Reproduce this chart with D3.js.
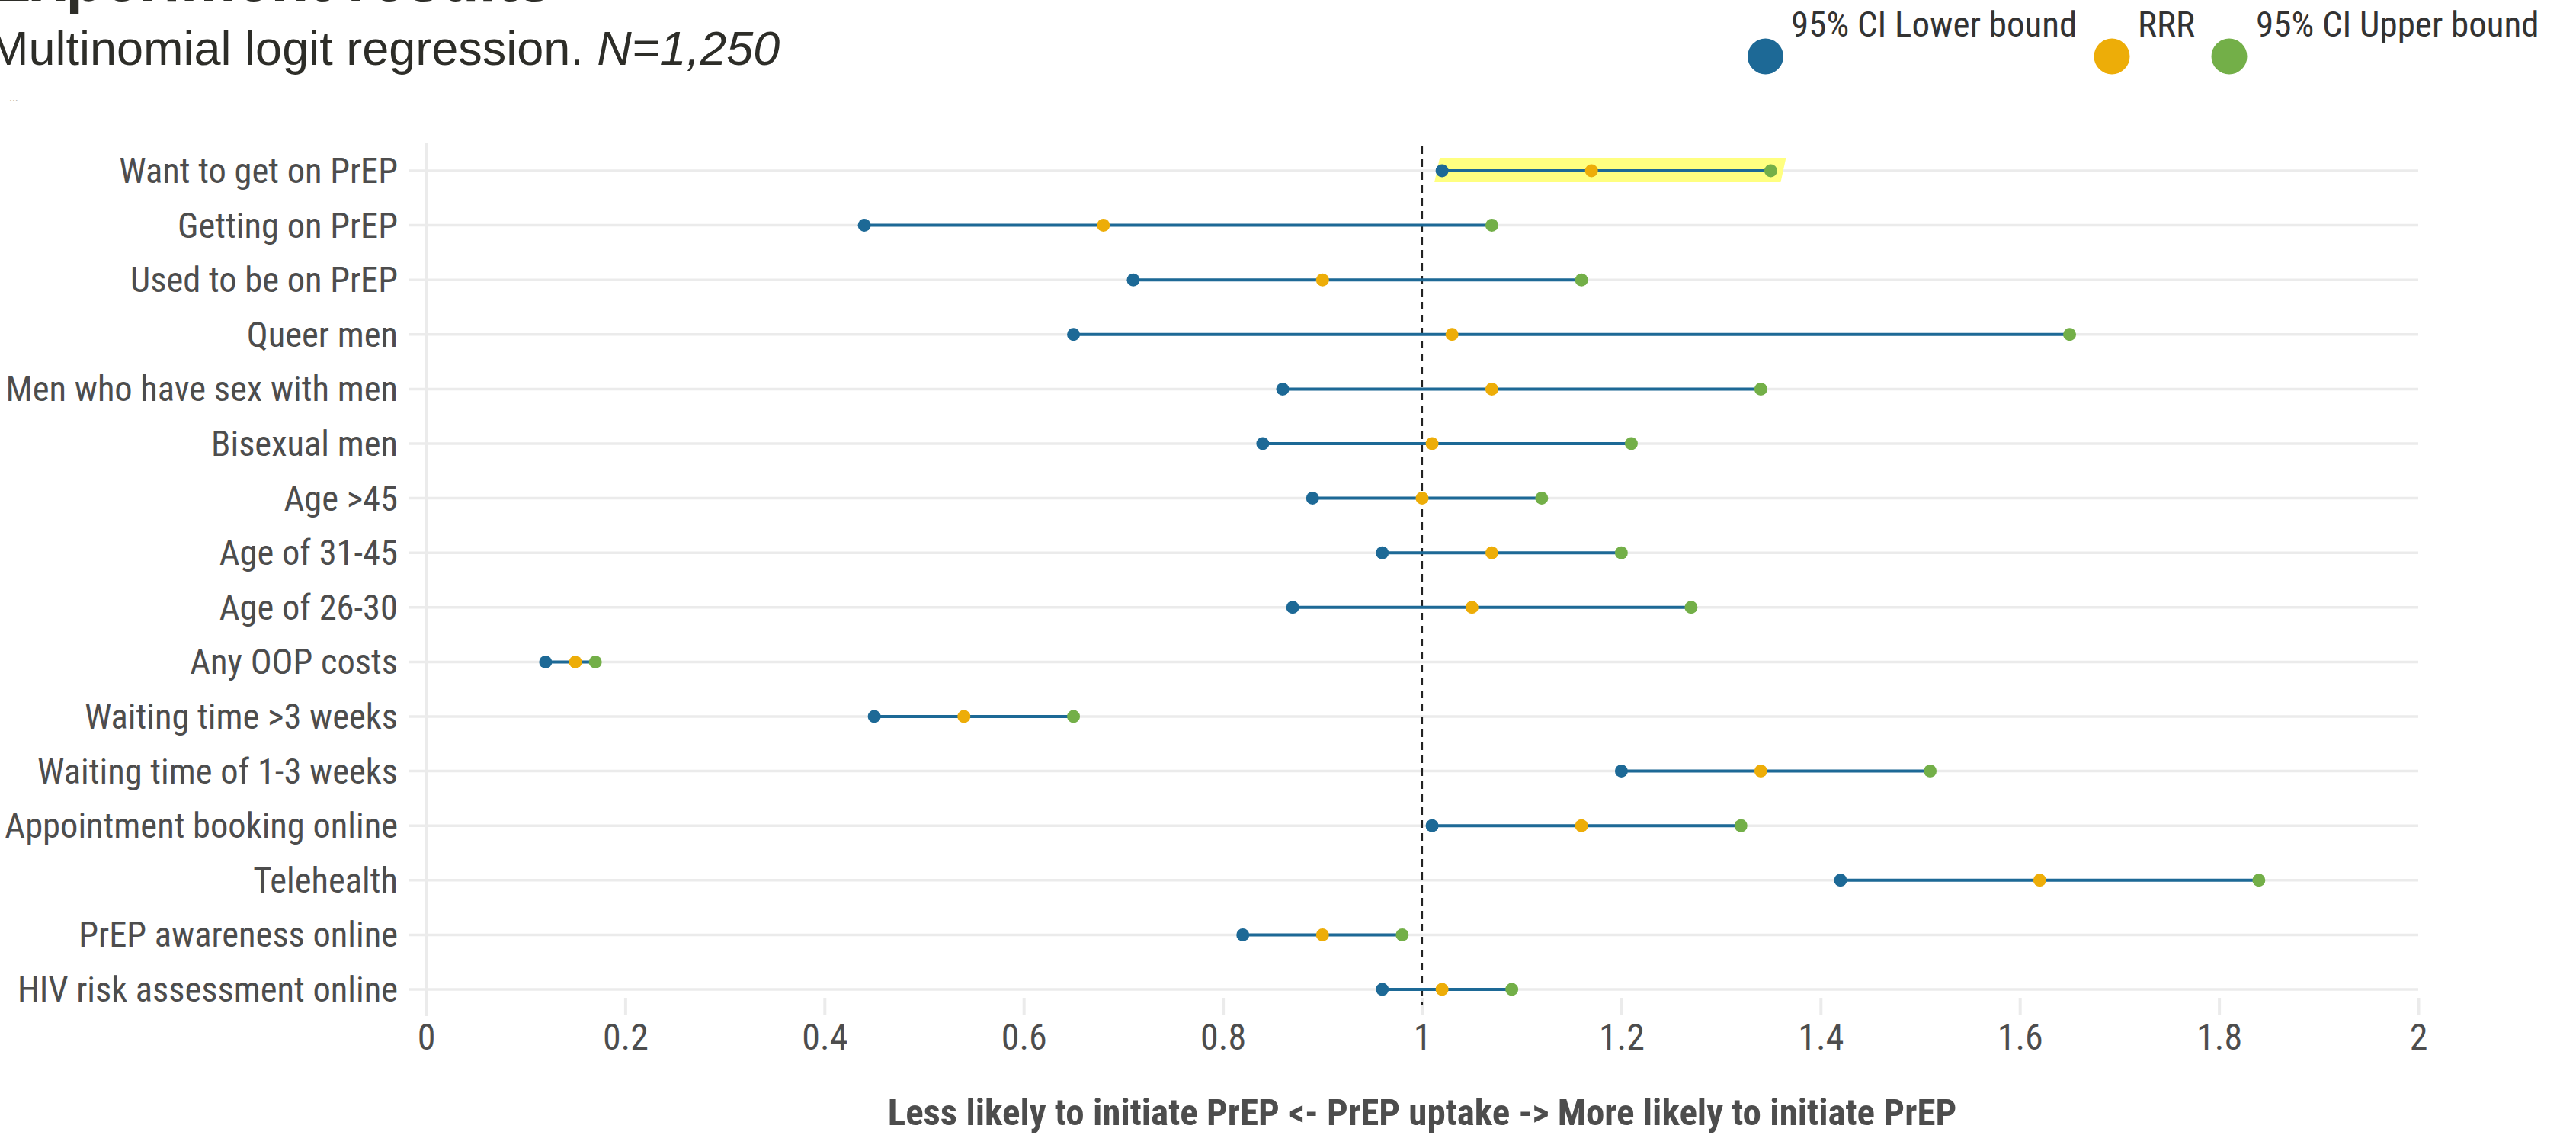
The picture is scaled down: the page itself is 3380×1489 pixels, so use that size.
<!DOCTYPE html>
<html>
<head>
<meta charset="utf-8">
<script src="https://cdn.jsdelivr.net/npm/d3@7"></script>
<style>
  html, body { margin: 0; padding: 0; background: #ffffff; overflow: hidden; }
  svg { display: block; }
</style>
</head>
<body>
<div id="chart"></div>
<script>
// ---------------- DATA ----------------
const categories = [
  "Want to get on PrEP",
  "Getting on PrEP",
  "Used to be on PrEP",
  "Queer men",
  "Men who have sex with men",
  "Bisexual men",
  "Age >45",
  "Age of 31-45",
  "Age of 26-30",
  "Any OOP costs",
  "Waiting time >3 weeks",
  "Waiting time of 1-3 weeks",
  "Appointment booking online",
  "Telehealth",
  "PrEP awareness online",
  "HIV risk assessment online"
];
const lowerBound = [1.02, 0.44, 0.71, 0.65, 0.86, 0.84, 0.89, 0.96, 0.87, 0.12, 0.45, 1.20, 1.01, 1.42, 0.82, 0.96];
const rrr        = [1.17, 0.68, 0.90, 1.03, 1.07, 1.01, 1.00, 1.07, 1.05, 0.15, 0.54, 1.34, 1.16, 1.62, 0.90, 1.02];
const upperBound = [1.35, 1.07, 1.16, 1.65, 1.34, 1.21, 1.12, 1.20, 1.27, 0.17, 0.65, 1.51, 1.32, 1.84, 0.98, 1.09];
const xTicks = [0, 0.2, 0.4, 0.6, 0.8, 1, 1.2, 1.4, 1.6, 1.8, 2];
const seriesNames = ["95% CI Lower bound", "RRR", "95% CI Upper bound"];
const seriesColors = ["#1D6996", "#EDAD08", "#73AF48"];
const highlighted = ["Want to get on PrEP"];
const referenceValue = 1;
const titleText = "Experiment results";
const subtitleText = "Multinomial logit regression. ";
const subtitleItalic = "N=1,250";
const xAxisTitle = "Less likely to initiate PrEP <- PrEP uptake -> More likely to initiate PrEP";

// ---------------- SETUP ----------------
const W = 3380, H = 1489;
const svg = d3.select("#chart").append("svg").attr("width", W).attr("height", H);

// detect condensed font availability
function hasFont(name) {
  const c = document.createElement("canvas").getContext("2d");
  const s = "Want to get on PrEP 0123456789";
  c.font = "48px monospace"; const a = c.measureText(s).width;
  c.font = `48px "${name}", monospace`; const b = c.measureText(s).width;
  return Math.abs(a - b) > 0.5;
}
const condensedOK = hasFont("Roboto Condensed");
const CF = condensedOK ? "'Roboto Condensed', Roboto, sans-serif" : "Roboto, sans-serif";
const SX = condensedOK ? 1 : 0.82;

function ctext(g, x, y, txt, opts) {
  const t = g.append("text")
    .attr("transform", `translate(${x},${y}) scale(${SX},1)`)
    .attr("font-family", CF)
    .attr("font-size", opts.size)
    .attr("font-weight", opts.weight || 400)
    .attr("fill", opts.fill || "#4d4d4d")
    .attr("text-anchor", opts.anchor || "start")
    .text(txt);
  return t;
}

const x = d3.scaleLinear().domain([0, 2]).range([559, 3173]);
const y = d3.scalePoint().domain(categories).range([224, 1298]);

const gridColor = "#ebebeb";

// ---------------- TITLES ----------------
svg.append("text")
  .attr("x", -14).attr("y", 1)
  .attr("font-family", "'Liberation Sans', Arial, sans-serif")
  .attr("font-weight", 700).attr("font-size", 82)
  .attr("fill", "#2d2d28")
  .text(titleText);

const sub = svg.append("text")
  .attr("x", -15).attr("y", 85)
  .attr("font-family", "'Liberation Sans', Arial, sans-serif")
  .attr("font-size", 63)
  .attr("fill", "#2d2d28");
sub.append("tspan").text(subtitleText);
sub.append("tspan").attr("font-style", "italic").text(subtitleItalic);

svg.append("text")
  .attr("x", 12).attr("y", 133)
  .attr("font-family", "'Liberation Sans', Arial, sans-serif")
  .attr("font-size", 14).attr("fill", "#888")
  .text("...");

// ---------------- LEGEND ----------------
const legendPos = [
  { cx: 2316.5, tx: 2350 },
  { cx: 2771, tx: 2805 },
  { cx: 2925, tx: 2960 }
];
const lg = svg.append("g");
seriesNames.forEach((n, i) => {
  lg.append("circle").attr("cx", legendPos[i].cx).attr("cy", 74).attr("r", 23.5).attr("fill", seriesColors[i]);
  ctext(lg, legendPos[i].tx, 48, n, { size: 47, fill: "#333333" });
});

// ---------------- GRID ----------------
const grid = svg.append("g");
grid.selectAll("line.h").data(categories).join("line")
  .attr("class", "h")
  .attr("x1", 537).attr("x2", x(2))
  .attr("y1", d => y(d)).attr("y2", d => y(d))
  .attr("stroke", gridColor).attr("stroke-width", 3.5);

// y axis line
grid.append("line")
  .attr("x1", x(0)).attr("x2", x(0))
  .attr("y1", 187).attr("y2", 1333)
  .attr("stroke", gridColor).attr("stroke-width", 4);

// x axis via d3
const xAxis = d3.axisBottom(x).tickValues(xTicks).tickFormat(d3.format("~g")).tickSize(23).tickPadding(0);
const axG = svg.append("g").attr("transform", "translate(0,1309)").call(xAxis);
axG.select(".domain").remove();
axG.selectAll(".tick line").attr("stroke", gridColor).attr("stroke-width", 4);
axG.selectAll(".tick text").remove();
axG.selectAll(".tick").each(function(d) {
  ctext(d3.select(this), 0, 68, d3.format("~g")(d), { size: 48, anchor: "middle" });
});

// ---------------- HIGHLIGHT ----------------
const hl = svg.append("g");
highlighted.forEach(h => {
  const i = categories.indexOf(h);
  const yc = y(h);
  const xl = x(lowerBound[i]) - 10, xr = x(upperBound[i]) + 20;
  hl.append("path")
    .attr("d", `M${xl + 7},${yc - 17} L${xr},${yc - 17} L${xr - 7},${yc + 15} L${xl},${yc + 15} Z`)
    .attr("fill", "#ffff80");
});

// ---------------- REFERENCE LINE ----------------
svg.append("line")
  .attr("x1", x(referenceValue)).attr("x2", x(referenceValue))
  .attr("y1", 192).attr("y2", 1318)
  .attr("stroke", "#222").attr("stroke-width", 2.2)
  .attr("stroke-dasharray", "10,7");

// ---------------- ROW LABELS ----------------
const lab = svg.append("g");
categories.forEach(c => {
  ctext(lab, 522, y(c) + 16, c, { size: 46.5, anchor: "end" });
});

// ---------------- DUMBBELLS ----------------
const rows = categories.map((c, i) => ({ c, lo: lowerBound[i], mid: rrr[i], hi: upperBound[i] }));
const marks = svg.append("g");
marks.selectAll("line.db").data(rows).join("line")
  .attr("class", "db")
  .attr("x1", d => x(d.lo)).attr("x2", d => x(d.hi))
  .attr("y1", d => y(d.c)).attr("y2", d => y(d.c))
  .attr("stroke", seriesColors[0]).attr("stroke-width", 4);

const seriesVals = [lowerBound, rrr, upperBound];
seriesVals.forEach((vals, s) => {
  marks.append("g").selectAll("circle").data(vals).join("circle")
    .attr("cx", d => x(d))
    .attr("cy", (d, i) => y(categories[i]))
    .attr("r", 8.5)
    .attr("fill", seriesColors[s]);
});

// ---------------- X AXIS TITLE ----------------
ctext(svg, (x(0) + x(2)) / 2, 1476, xAxisTitle, { size: 49, weight: 700, anchor: "middle" });
</script>
</body>
</html>
